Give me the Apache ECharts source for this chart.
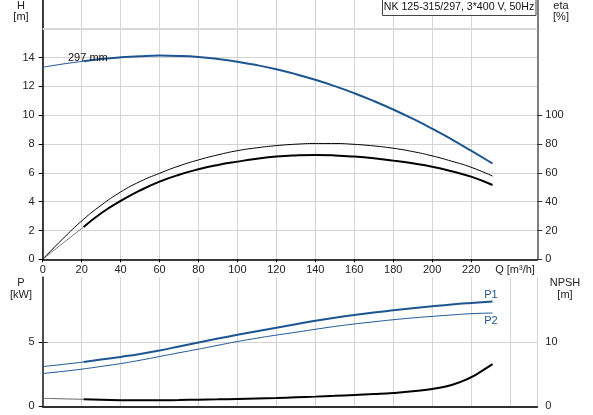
<!DOCTYPE html>
<html><head><meta charset="utf-8">
<script src="https://cdn.jsdelivr.net/npm/echarts@6/dist/echarts.min.js"></script>
<style>html,body{margin:0;padding:0;background:#fff}#c{width:593px;height:415px}</style>
</head><body><div id="c"></div>
<script>
// ---- data ----
var qFlow   = [0,10,21,30,40,50,60,70,80,90,100,110,120,130,140,150,160,170,180,190,200,210,220,231];
var headH   = [13.33,13.55,13.75,13.9,14.02,14.1,14.14,14.12,14.05,13.91,13.72,13.48,13.19,12.85,12.46,12.02,11.53,10.99,10.4,9.76,9.07,8.33,7.54,6.65];
var etaUpper= [0,13.8,27.8,37.5,46.7,54,59.7,64.8,69,72.5,75.4,77.4,78.9,79.9,80.4,80.4,79.8,78.7,77.1,74.8,71.8,68.1,63.9,57.8];
var etaLower= [0,10.8,22.4,32,40.5,47.8,53.9,58.7,62.5,65.5,67.8,69.8,71.3,72.1,72.4,72.1,71.3,70.1,68.5,66.6,64.3,61.1,57.4,51.6];
var powerP1 = [3.08,3.24,3.43,3.62,3.83,4.06,4.33,4.64,4.95,5.25,5.54,5.82,6.09,6.36,6.63,6.87,7.08,7.27,7.44,7.6,7.75,7.89,8.01,8.13];
var powerP2 = [2.54,2.7,2.9,3.09,3.31,3.57,3.86,4.15,4.43,4.73,5.02,5.28,5.52,5.74,5.97,6.19,6.38,6.55,6.71,6.85,6.97,7.08,7.18,7.23];
var qNpsh   = [0,10,21,30,40,50,60,70,80,90,100,110,120,130,140,150,160,170,180,190,200,210,220,225,231];
var npsh    = [1.24,1.16,1.08,1.0,0.95,0.93,0.93,0.97,1.03,1.08,1.14,1.21,1.29,1.4,1.5,1.62,1.76,1.9,2.07,2.32,2.69,3.3,4.5,5.38,6.53];
var xTicks  = [0,20,40,60,80,100,120,140,160,180,200,220];
var hTicks  = [0,2,4,6,8,10,12,14];
var etaTicks= [0,20,40,60,80,100];
var pTicks  = [0,5];
var npshTicks=[0,10];
var title   = 'NK 125-315/297, 3*400 V, 50Hz';

function pairs(q, v, from, to){ var r=[]; for(var i=from;i<=to;i++) r.push([q[i], v[i]]); return r; }
var nT = 2, nE = qFlow.length-1, nN = qNpsh.length-1;

var FONT = 'Liberation Sans, Arial, sans-serif';
var lab = {fontFamily:FONT, fontSize:11, color:'#222'};
var grid = '#d4d4d4';
var blue = '#1d5591';

var chart = echarts.init(document.getElementById('c'), null, {renderer:'canvas'});
function line(name, data, xi, yi, color, w, extra){
  var s = {name:name, type:'line', data:data, xAxisIndex:xi, yAxisIndex:yi, symbol:'none', smooth:0.5,
    lineStyle:{color:color, width:w}, silent:true, z:5};
  if(extra) for(var k in extra) s[k]=extra[k];
  return s;
}
function txt(x, y, t, color, align, size){
  return {type:'text', x:x, y:y, z:10, style:{text:t, font:(size||11)+'px '+FONT, fill:color||'#222', align:align||'center', verticalAlign:'middle'}};
}
chart.setOption({
  animation:false,
  grid:[
    {left:42.7, width:494.6, top:0, height:259.3},
    {left:42.7, width:494.6, top:277.3, height:129}
  ],
  xAxis:[
    {gridIndex:0, type:'value', min:0, max:254, interval:20,
     axisLine:{lineStyle:{color:'#000', width:1.5}},
     axisTick:{show:true, length:3, lineStyle:{color:'#000'}, customValues:xTicks},
     axisLabel:Object.assign({margin:5, customValues:xTicks}, lab),
     splitLine:{show:true, lineStyle:{color:grid, width:1}}},
    {gridIndex:1, type:'value', min:0, max:254, interval:20,
     axisLine:{lineStyle:{color:'#c4c4c4', width:2}},
     axisTick:{show:false}, axisLabel:{show:false},
     splitLine:{show:true, lineStyle:{color:grid, width:1}}},
    {gridIndex:1, type:'value', min:0, max:254, interval:20, position:'top',
     axisLine:{lineStyle:{color:'#000', width:1.5}},
     axisTick:{show:false}, axisLabel:{show:false}, splitLine:{show:false}}
  ],
  yAxis:[
    {gridIndex:0, type:'value', min:0, max:18, interval:2, position:'left',
     axisLine:{show:true, lineStyle:{color:'#000', width:1.5}},
     axisTick:{show:true, length:4, lineStyle:{color:'#000'}, customValues:hTicks},
     axisLabel:Object.assign({margin:8, customValues:hTicks}, lab),
     splitLine:{show:true, lineStyle:{color:grid, width:1}}},
    {gridIndex:0, type:'value', min:0, max:180, interval:20, position:'right',
     axisLine:{show:true, lineStyle:{color:'#555', width:1.5}},
     axisTick:{show:true, length:5, lineStyle:{color:'#333'}, customValues:etaTicks},
     axisLabel:Object.assign({margin:8, customValues:etaTicks}, lab),
     splitLine:{show:false}},
    {gridIndex:1, type:'value', min:0, max:10, interval:5, position:'left',
     axisLine:{show:true, lineStyle:{color:'#000', width:1.5}},
     axisTick:{show:true, length:4, lineStyle:{color:'#000'}, customValues:pTicks},
     axisLabel:Object.assign({margin:8, customValues:pTicks}, lab),
     splitLine:{show:true, lineStyle:{color:grid, width:1}}},
    {gridIndex:1, type:'value', min:0, max:20, interval:10, position:'right',
     axisLine:{show:true, lineStyle:{color:'#555', width:1.5}},
     axisTick:{show:true, length:5, lineStyle:{color:'#333'}, customValues:npshTicks},
     axisLabel:Object.assign({margin:8, customValues:npshTicks}, lab),
     splitLine:{show:false}}
  ],
  series:[
    line('H thin', pairs(qFlow, headH, 0, nT), 0, 0, blue, 1, {
      markLine:{silent:true, symbol:'none', label:{show:false}, lineStyle:{color:'#d8d8d8', width:2, type:'solid'}, data:[{yAxis:16}], z:1}}),
    line('H', pairs(qFlow, headH, nT, nE), 0, 0, blue, 2),
    line('eta upper', pairs(qFlow, etaUpper, 0, nE), 0, 1, '#000', 1),
    line('eta lower thin', pairs(qFlow, etaLower, 0, nT), 0, 1, '#555', 0.8),
    line('eta lower', pairs(qFlow, etaLower, nT, nE), 0, 1, '#000', 2),
    line('P1 thin', pairs(qFlow, powerP1, 0, nT), 1, 2, blue, 1),
    line('P1', pairs(qFlow, powerP1, nT, nE), 1, 2, blue, 2),
    line('P2', pairs(qFlow, powerP2, 0, nE), 1, 2, blue, 1),
    line('NPSH thin', pairs(qNpsh, npsh, 0, nT), 1, 3, '#666', 1),
    line('NPSH', pairs(qNpsh, npsh, nT, nN), 1, 3, '#000', 2)
  ],
  graphic:[
    txt(21, 6, 'H'), txt(21, 17, '[m]'),
    txt(561, 6, 'eta'), txt(561, 17, '[%]'),
    txt(21, 283, 'P'), txt(21, 295, '[kW]'),
    txt(565, 283, 'NPSH'), txt(565, 295, '[m]'),
    txt(515, 269.5, 'Q [m³/h]'),
    txt(68, 58, '297 mm', '#111', 'left'),
    txt(491, 295, 'P1', blue), txt(491, 321, 'P2', blue),
    {type:'rect', z:10, shape:{x:382.5, y:-1, width:153.5, height:16.5}, style:{fill:'#fff', stroke:'#444', lineWidth:1}},
    {type:'text', z:11, x:459, y:7.5, style:{text:title, font:'10.6px '+FONT, fill:'#111', align:'center', verticalAlign:'middle'}}
  ]
});
</script></body></html>
